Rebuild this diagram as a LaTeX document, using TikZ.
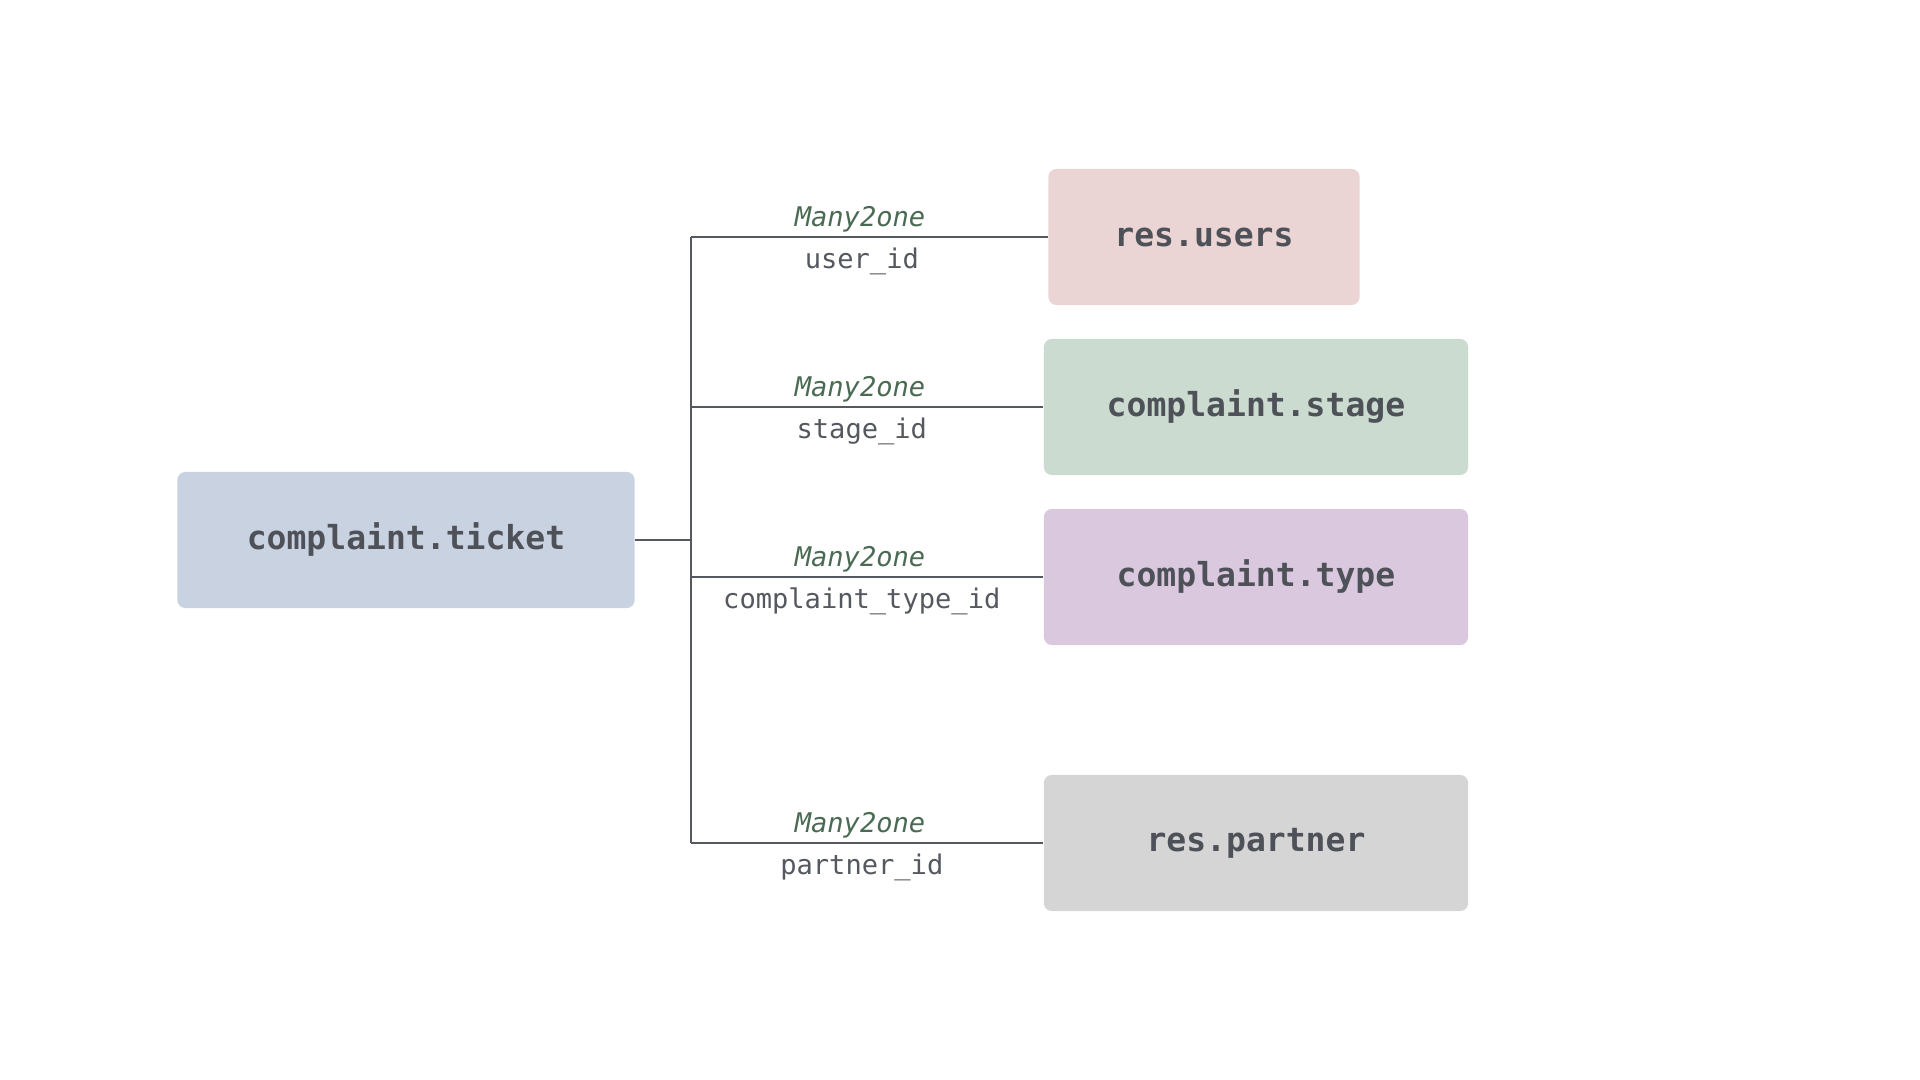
\documentclass[tikz,border=0pt]{standalone}
\usepackage{fontspec}
\setmonofont{DejaVu Sans Mono}
\definecolor{ticketfill}{HTML}{C9D2E0}
\definecolor{usersfill}{HTML}{EAD4D4}
\definecolor{stagefill}{HTML}{CBDBD0}
\definecolor{typefill}{HTML}{DAC8DF}
\definecolor{partnerfill}{HTML}{D5D5D5}
\definecolor{textgray}{HTML}{4E5258}
\definecolor{linegray}{HTML}{55595F}
\definecolor{kindgreen}{HTML}{4B6A53}
\begin{document}
\begin{tikzpicture}[x=0.01cm,y=-0.01cm,
  model/.style={rounded corners=0.08cm,minimum height=1.36cm,inner sep=0pt,
    text=textgray,font=\ttfamily\bfseries\fontsize{9.4}{11}\selectfont},
  link/.style={draw=linegray,line width=0.6pt},
  kind/.style={font=\ttfamily\itshape\fontsize{7.7}{9}\selectfont,text=kindgreen,
    pos=0.48,above,inner sep=1.2pt},
  field/.style={font=\ttfamily\fontsize{7.7}{9}\selectfont,text=linegray,
    pos=0.485,below,inner sep=2.8pt}]
\useasboundingbox (0,0) rectangle (1920,1080);
% models
\node[model,fill=ticketfill,minimum width=4.57cm] (ticket) at (406,540) {complaint.ticket};
\node[model,fill=usersfill,minimum width=3.11cm] (users) at (1204,237) {res.users};
\node[model,fill=stagefill,minimum width=4.24cm] (stage) at (1256,407) {complaint.stage};
\node[model,fill=typefill,minimum width=4.24cm] (type) at (1256,577) {complaint.type};
\node[model,fill=partnerfill,minimum width=4.24cm] (partner) at (1256,843) {res.partner};
% relations
\coordinate (bus top) at (691,237);
\coordinate (bus bottom) at (691,843);
\draw[link] (bus top) -- (bus bottom);
\draw[link] (ticket.east) -- (ticket.east -| bus top);
\draw[link] (bus top) -- (users.west -| stage.west)
  node[kind] {Many2one} node[field] {user\_id} -- (users.west);
\draw[link] (stage.west -| bus top) -- (stage.west)
  node[kind] {Many2one} node[field] {stage\_id};
\draw[link] (type.west -| bus top) -- (type.west)
  node[kind] {Many2one} node[field] {complaint\_type\_id};
\draw[link] (bus bottom) -- (partner.west)
  node[kind] {Many2one} node[field] {partner\_id};
\end{tikzpicture}
\end{document}
